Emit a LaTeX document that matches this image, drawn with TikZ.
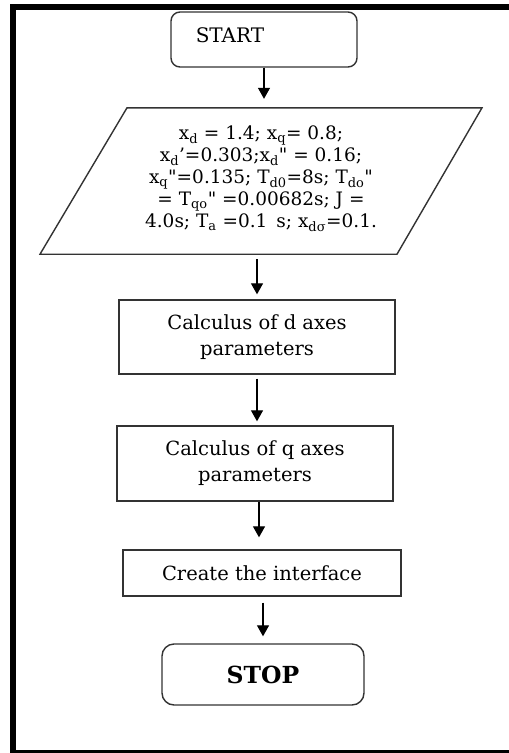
\documentclass[tikz,border=0pt]{standalone}
\usepackage{fontspec}
\setmainfont{DejaVu Serif}
\usetikzlibrary{arrows.meta,calc}
\tikzset{
  edge/.style={draw=black!80, line width=1.4pt},
  procbox/.style={edge, rectangle, inner sep=0pt, align=center, font=\fontsize{19.5}{26}\selectfont},
  termbox/.style={edge, rectangle, rounded corners=9pt, inner sep=0pt},
  txt/.style={inner sep=0pt, align=center},
  arr/.style={draw=black, line width=1.3pt, -{Triangle[width=12pt,length=11pt]}},
  frame/.style={draw=black, line width=6pt}
}
\newcommand{\sbs}[1]{\textsubscript{#1}}
\begin{document}
\begin{tikzpicture}[x=1pt,y=-1pt]
\useasboundingbox (0,0) rectangle (509,753);
\fill[white] (0,0) rectangle (509,753);
% frame
\draw[frame] (13,753) -- (13,6.5) -- (509,6.5);
\draw[draw=black, line width=3pt] (13,751.5) -- (509,751.5);
% START
\node[termbox, minimum width=186pt, minimum height=55pt] (start) at (264,39.5) {};
\node[txt, font=\fontsize{20}{22}\selectfont] (starttxt) at (230,35) {START};
% input parallelogram
\node[txt, minimum height=146pt, minimum width=270pt, font=\fontsize{18.5}{22}\selectfont] (par) at (261,179)
 {x\sbs{d} = 1.4; x\sbs{q}= 0.8;\\
  x\sbs{d}’=0.303;x\sbs{d}\textquotedbl{} = 0.16;\\
  x\sbs{q}\textquotedbl=0.135; T\sbs{d0}=8s; T\sbs{do}\textquotedbl\\
  = T\sbs{qo}\textquotedbl{} =0.00682s; J =\\
  4.0s; T\sbs{a} =0.1 \,s; x\sbs{dσ}=0.1.};
\draw[edge] ([xshift=-221pt,yshift=-2pt]par.south) -- ([xshift=-134pt,yshift=-2pt]par.north) -- ([xshift=221pt,yshift=-2pt]par.north) -- ([xshift=136pt,yshift=-2pt]par.south) -- cycle;
% process boxes
\node[procbox, minimum width=276pt, minimum height=74pt] (dbox) at (257,337) {Calculus of d axes\\parameters};
\node[procbox, minimum width=276pt, minimum height=75pt] (qbox) at (255,463.5) {Calculus of q axes\\parameters};
\node[procbox, minimum width=278pt, minimum height=46pt] (cbox) at (262,573) {Create the interface};
% STOP
\node[termbox, rounded corners=12pt, minimum width=202pt, minimum height=61pt, font=\bfseries\fontsize{23.5}{25}\selectfont] (stop) at (263,674.5) {STOP};
% arrows
\draw[arr, shorten >=7pt] (start.south) -- (start.south |- par.north);
\draw[arr, shorten <=7pt, shorten >=5pt] (dbox.north |- par.south) -- (dbox.north);
\draw[arr, shorten <=4pt, shorten >=4pt] (dbox.south) -- (dbox.south |- qbox.north);
\draw[arr, shorten >=12pt] (qbox.south -| 259,0) -- (cbox.north -| 259,0);
\draw[arr, shorten <=6pt, shorten >=7pt] (cbox.south -| stop.north) -- (stop.north);
\end{tikzpicture}
\end{document}
